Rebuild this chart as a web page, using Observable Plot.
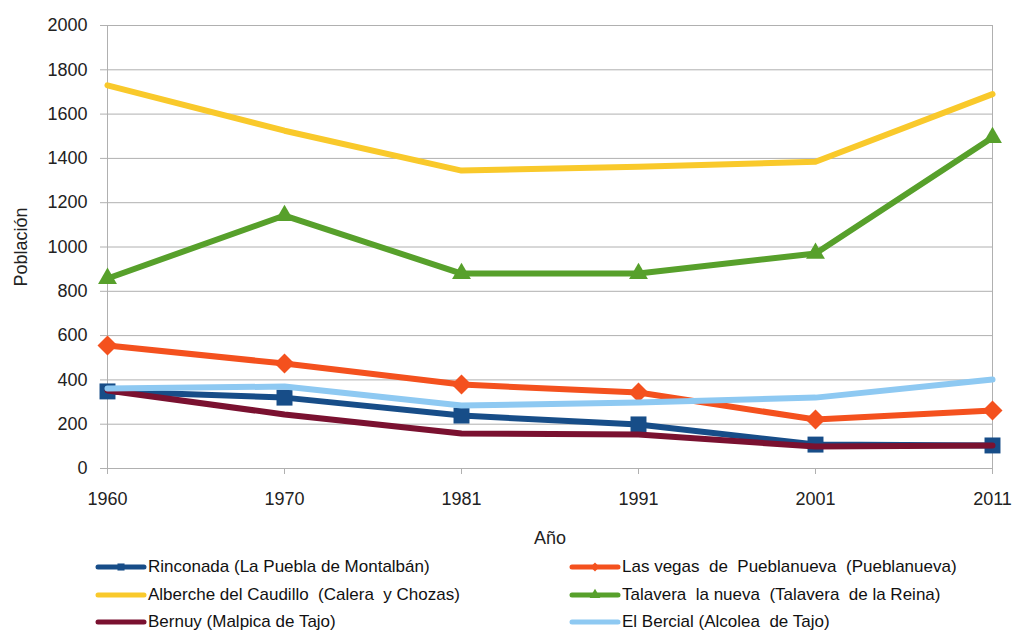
<!DOCTYPE html>
<html>
<head>
<meta charset="utf-8">
<script src="https://cdn.jsdelivr.net/npm/d3@7"></script>
<script src="https://cdn.jsdelivr.net/npm/@observablehq/plot@0.6"></script>
<style>
  html, body { margin: 0; padding: 0; background: #fff; }
  #wrap { position: relative; width: 1012px; height: 632px; font-family: "Liberation Sans", Arial, sans-serif; }
  .leg { position: absolute; display: flex; align-items: center; font-size: 17px; color: #111; white-space: pre; height: 24px; }
  .leg svg { display: block; margin-right: 1px; }
</style>
</head>
<body>
<div id="wrap"></div>
<script>
const years = ["1960", "1970", "1981", "1991", "2001", "2011"];
const seriesNames = [
  "Rinconada (La Puebla de Montalbán)",
  "Las vegas  de  Pueblanueva  (Pueblanueva)",
  "Alberche del Caudillo  (Calera  y Chozas)",
  "Talavera  la nueva  (Talavera  de la Reina)",
  "Bernuy (Malpica de Tajo)",
  "El Bercial (Alcolea  de Tajo)"
];
const rinconada = [348, 320, 239, 199, 108, 104];
const lasVegas  = [555, 474, 379, 343, 221, 262];
const alberche  = [1730, 1525, 1345, 1362, 1385, 1690];
const talavera  = [858, 1142, 880, 880, 971, 1494];
const bernuy    = [352, 244, 158, 153, 99, 104];
const bercial   = [361, 370, 284, 298, 320, 402];
const yTicks = [0, 200, 400, 600, 800, 1000, 1200, 1400, 1600, 1800, 2000];

const colors  = ["#174d88", "#f4511e", "#f9c92b", "#57a02b", "#7a1130", "#8ec9f2"];
const symbols = ["square", "diamond2", null, "triangle", null, null];
const allValues = [rinconada, lasVegas, alberche, talavera, bernuy, bercial];

const rows = [];
allValues.forEach((vals, i) => vals.forEach((v, j) => rows.push({series: seriesNames[i], year: years[j], value: v, idx: i})));

const marks = [
  Plot.gridY(yTicks, {stroke: "#b0b0b0", strokeOpacity: 1, strokeWidth: 1}),
  Plot.ruleX(["2011"], {stroke: "#b0b0b0", strokeWidth: 1}),
  Plot.ruleX(["1960"], {stroke: "#b0b0b0", strokeWidth: 1}),
  Plot.axisY(yTicks, {tickSize: 7, tickPadding: 13, stroke: "#b0b0b0", fill: "#222", fontSize: 18, tickFormat: d => String(d), label: "Población", labelAnchor: "center", labelOffset: 93, labelArrow: "none"}),
  Plot.axisX(years, {tickSize: 6, tickPadding: 18, stroke: "#b0b0b0", fill: "#222", fontSize: 18, label: "Año", labelAnchor: "center", labelOffset: 75, labelArrow: "none"})
];
const symR = {square: 9, diamond2: 9, triangle: 7};
seriesNames.forEach((name, i) => {
  const d = rows.filter(r => r.idx === i);
  marks.push(Plot.line(d, {x: "year", y: "value", stroke: colors[i], strokeWidth: 6, strokeLinejoin: "round"}));
  if (symbols[i]) {
    marks.push(Plot.dot(d, {x: "year", y: "value", symbol: symbols[i], fill: colors[i], stroke: "none", r: symR[symbols[i]]}));
  }
});

const chart = Plot.plot({
  width: 1012,
  height: 550,
  marginLeft: 107,
  marginRight: 20,
  marginTop: 25,
  marginBottom: 82,
  style: {fontFamily: "'Liberation Sans', Arial, sans-serif", fontSize: "18px", color: "#222", background: "#fff"},
  x: {type: "point", domain: years, padding: 0},
  y: {domain: [0, 2000]},
  marks
});
const wrap = document.getElementById("wrap");
wrap.appendChild(chart);

// legend
const legPos = [
  {left: 95, top: 555}, {left: 569, top: 555},
  {left: 95, top: 583}, {left: 569, top: 583},
  {left: 95, top: 610}, {left: 569, top: 610}
];
seriesNames.forEach((name, i) => {
  const div = document.createElement("div");
  div.className = "leg";
  div.style.left = legPos[i].left + "px";
  div.style.top = legPos[i].top + "px";
  const ns = "http://www.w3.org/2000/svg";
  const s = document.createElementNS(ns, "svg");
  s.setAttribute("width", 52); s.setAttribute("height", 24);
  const ln = document.createElementNS(ns, "line");
  ln.setAttribute("x1", 3); ln.setAttribute("x2", 49); ln.setAttribute("y1", 12); ln.setAttribute("y2", 12);
  ln.setAttribute("stroke", colors[i]); ln.setAttribute("stroke-width", 5); ln.setAttribute("stroke-linecap", "round");
  s.appendChild(ln);
  if (symbols[i]) {
    const p = document.createElementNS(ns, "path");
    const sym = symbols[i] === "square" ? d3.symbolSquare : symbols[i] === "diamond2" ? d3.symbolDiamond2 : d3.symbolTriangle;
    p.setAttribute("d", d3.symbol(sym, 50)());
    p.setAttribute("transform", "translate(26,12)");
    p.setAttribute("fill", colors[i]);
    s.appendChild(p);
  }
  div.appendChild(s);
  const t = document.createElement("span");
  t.textContent = name;
  div.appendChild(t);
  wrap.appendChild(div);
});
</script>
</body>
</html>
